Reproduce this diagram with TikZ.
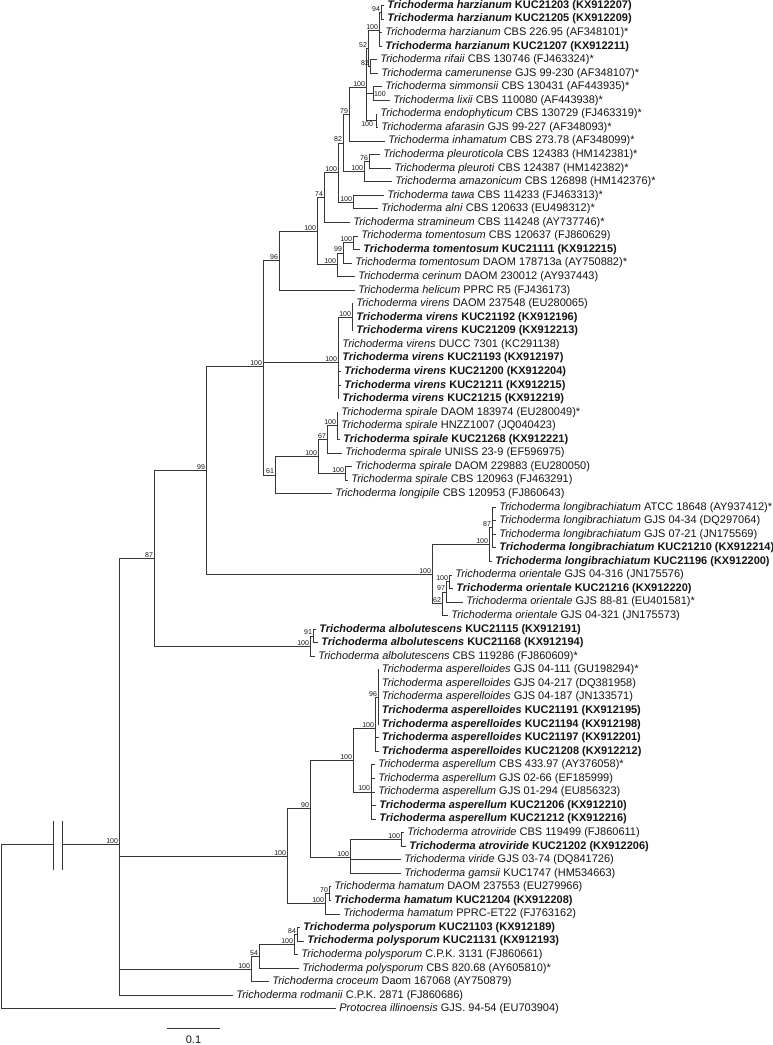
\documentclass[tikz,border=0pt]{standalone}
\usepackage{fontspec}
\setmainfont{Liberation Sans}
\definecolor{TreeGray}{RGB}{55,55,55}
\definecolor{TipText}{RGB}{20,20,20}
\newcommand{\Tsp}[1]{\textit{Trichoderma #1}}
\newcommand{\kids}[2]{\foreach \ch in {#2}{\draw[br] (#1) |- (\ch);}}

\begin{document}
\begin{tikzpicture}[x=1pt, y=-1pt,
    br/.style={draw=TreeGray, line width=0.95pt},
    taxon/.style={anchor=west, inner xsep=3.2pt, inner ysep=0pt, text=TipText,
                  font=\fontsize{11}{12}\selectfont},
    taxonB/.style={taxon, font=\fontsize{11}{12}\selectfont\bfseries},
    bsup/.style={anchor=south east, inner sep=0.8pt, text=TipText,
                 font=\fontsize{7}{8}\selectfont}
  ]
  \useasboundingbox (0,0) rectangle (773,1045);

  % internal nodes
  \coordinate (n94)  at (381,12.28);
  \coordinate (nH)   at (379,30.36);
  \coordinate (n82a) at (370,66.52);
  \coordinate (n52)  at (368,48.44);
  \coordinate (nS)   at (373,93.64);
  \coordinate (nE)   at (376,120.76);
  \coordinate (nB)   at (366,87.61);
  \coordinate (n79)  at (349,114.36);
  \coordinate (n76)  at (369,161.44);
  \coordinate (nP)   at (364,171.61);
  \coordinate (n82b) at (343,142.99);
  \coordinate (nTa)  at (353,202.12);
  \coordinate (nC)   at (338,172.55);
  \coordinate (n74)  at (324,197.51);
  \coordinate (nT)   at (353,242.80);
  \coordinate (n99t) at (343,252.97);
  \coordinate (nTe)  at (337,264.84);
  \coordinate (nD)   at (317,231.17);
  \coordinate (n96)  at (279,260.72);
  \coordinate (nVs)  at (352,317.38);
  \coordinate (nV)   at (338,362.58);
  \coordinate (nSp)  at (337,425.86);
  \coordinate (n67)  at (327,439.42);
  \coordinate (nSq)  at (345,473.32);
  \coordinate (nSr)  at (318,456.37);
  \coordinate (n61)  at (275,475.02);
  \coordinate (nF)   at (263,366.11);
  \coordinate (n87b) at (492,527.56);
  \coordinate (nLb)  at (489,544.51);
  \coordinate (nO)   at (449,581.80);
  \coordinate (n97)  at (446,591.97);
  \coordinate (n62)  at (442,603.84);
  \coordinate (nL)   at (432,574.17);
  \coordinate (n99)  at (206,470.14);
  \coordinate (n91)  at (313,636.04);
  \coordinate (nAl)  at (310,646.21);
  \coordinate (n87)  at (154,558.18);
  \coordinate (n96a) at (378,697.06);
  \coordinate (nAs)  at (375,728.70);
  \coordinate (nAm)  at (371,791.98);
  \coordinate (nAb)  at (353,760.34);
  \coordinate (nAt)  at (401,839.44);
  \coordinate (nVi)  at (350,857.52);
  \coordinate (n90)  at (310,808.93);
  \coordinate (n70)  at (329,893.68);
  \coordinate (nHa)  at (325,903.85);
  \coordinate (nG)   at (287,856.39);
  \coordinate (n84)  at (297,934.36);
  \coordinate (nPo)  at (294,944.53);
  \coordinate (n54)  at (259,956.40);
  \coordinate (nPc)  at (251,969.11);
  \coordinate (nA)   at (119,844.77);
  \coordinate (root) at (1,844.77);
  \coordinate (cut1) at (53,844.77);
  \coordinate (cut2) at (62,844.77);

  % taxa
  \node[taxonB] (l1)  at (384,5.50)   {\Tsp{harzianum} KUC21203 (KX912207)};
  \node[taxonB] (l2)  at (384,19.06)  {\Tsp{harzianum} KUC21205 (KX912209)};
  \node[taxon]  (l3)  at (382,32.62)  {\Tsp{harzianum} CBS 226.95 (AF348101)*};
  \node[taxonB] (l4)  at (382,46.18)  {\Tsp{harzianum} KUC21207 (KX912211)};
  \node[taxon]  (l5)  at (377,59.74)  {\Tsp{rifaii} CBS 130746 (FJ463324)*};
  \node[taxon]  (l6)  at (378,73.30)  {\Tsp{camerunense} GJS 99-230 (AF348107)*};
  \node[taxon]  (l7)  at (382,86.86)  {\Tsp{simmonsii} CBS 130431 (AF443935)*};
  \node[taxon]  (l8)  at (390,100.42) {\Tsp{lixii} CBS 110080 (AF443938)*};
  \node[taxon]  (l9)  at (377,113.98) {\Tsp{endophyticum} CBS 130729 (FJ463319)*};
  \node[taxon]  (l10) at (378,127.54) {\Tsp{afarasin} GJS 99-227 (AF348093)*};
  \node[taxon]  (l11) at (385,141.10) {\Tsp{inhamatum} CBS 273.78 (AF348099)*};
  \node[taxon]  (l12) at (380,154.66) {\Tsp{pleuroticola} CBS 124383 (HM142381)*};
  \node[taxon]  (l13) at (391,168.22) {\Tsp{pleuroti} CBS 124387 (HM142382)*};
  \node[taxon]  (l14) at (392,181.78) {\Tsp{amazonicum} CBS 126898 (HM142376)*};
  \node[taxon]  (l15) at (384,195.34) {\Tsp{tawa} CBS 114233 (FJ463313)*};
  \node[taxon]  (l16) at (378,208.90) {\Tsp{alni} CBS 120633 (EU498312)*};
  \node[taxon]  (l17) at (350,222.46) {\Tsp{stramineum} CBS 114248 (AY737746)*};
  \node[taxon]  (l18) at (358,236.02) {\Tsp{tomentosum} CBS 120637 (FJ860629)};
  \node[taxonB] (l19) at (360,249.58) {\Tsp{tomentosum} KUC21111 (KX912215)};
  \node[taxon]  (l20) at (352,263.14) {\Tsp{tomentosum} DAOM 178713a (AY750882)*};
  \node[taxon]  (l21) at (355,276.70) {\Tsp{cerinum} DAOM 230012 (AY937443)};
  \node[taxon]  (l22) at (355,290.26) {\Tsp{helicum} PPRC R5 (FJ436173)};
  \node[taxon]  (l23) at (353,303.82) {\Tsp{virens} DAOM 237548 (EU280065)};
  \node[taxonB] (l24) at (353,317.38) {\Tsp{virens} KUC21192 (KX912196)};
  \node[taxonB] (l25) at (353,330.94) {\Tsp{virens} KUC21209 (KX912213)};
  \node[taxon]  (l26) at (339,344.50) {\Tsp{virens} DUCC 7301 (KC291138)};
  \node[taxonB] (l27) at (339,358.06) {\Tsp{virens} KUC21193 (KX912197)};
  \node[taxonB] (l28) at (341,371.62) {\Tsp{virens} KUC21200 (KX912204)};
  \node[taxonB] (l29) at (341,385.18) {\Tsp{virens} KUC21211 (KX912215)};
  \node[taxonB] (l30) at (339,398.74) {\Tsp{virens} KUC21215 (KX912219)};
  \node[taxon]  (l31) at (338,412.30) {\Tsp{spirale} DAOM 183974 (EU280049)*};
  \node[taxon]  (l32) at (338,425.86) {\Tsp{spirale} HNZZ1007 (JQ040423)};
  \node[taxonB] (l33) at (340,439.42) {\Tsp{spirale} KUC21268 (KX912221)};
  \node[taxon]  (l34) at (342,452.98) {\Tsp{spirale} UNISS 23-9 (EF596975)};
  \node[taxon]  (l35) at (352,466.54) {\Tsp{spirale} DAOM 229883 (EU280050)};
  \node[taxon]  (l36) at (348,480.10) {\Tsp{spirale} CBS 120963 (FJ463291)};
  \node[taxon]  (l37) at (332,493.66) {\Tsp{longipile} CBS 120953 (FJ860643)};
  \node[taxon]  (l38) at (496,507.22) {\Tsp{longibrachiatum} ATCC 18648 (AY937412)*};
  \node[taxon]  (l39) at (496,520.78) {\Tsp{longibrachiatum} GJS 04-34 (DQ297064)};
  \node[taxon]  (l40) at (496,534.34) {\Tsp{longibrachiatum} GJS 07-21 (JN175569)};
  \node[taxonB] (l41) at (496,547.90) {\Tsp{longibrachiatum} KUC21210 (KX912214)};
  \node[taxonB] (l42) at (492,561.46) {\Tsp{longibrachiatum} KUC21196 (KX912200)};
  \node[taxon]  (l43) at (452,575.02) {\Tsp{orientale} GJS 04-316 (JN175576)};
  \node[taxonB] (l44) at (453,588.58) {\Tsp{orientale} KUC21216 (KX912220)};
  \node[taxon]  (l45) at (463,602.14) {\Tsp{orientale} GJS 88-81 (EU401581)*};
  \node[taxon]  (l46) at (448,615.70) {\Tsp{orientale} GJS 04-321 (JN175573)};
  \node[taxonB] (l47) at (316,629.26) {\Tsp{albolutescens} KUC21115 (KX912191)};
  \node[taxonB] (l48) at (318,642.82) {\Tsp{albolutescens} KUC21168 (KX912194)};
  \node[taxon]  (l49) at (315,656.38) {\Tsp{albolutescens} CBS 119286 (FJ860609)*};
  \node[taxon]  (l50) at (378.5,669.94) {\Tsp{asperelloides} GJS 04-111 (GU198294)*};
  \node[taxon]  (l51) at (378.5,683.50) {\Tsp{asperelloides} GJS 04-217 (DQ381958)};
  \node[taxon]  (l52) at (378.5,697.06) {\Tsp{asperelloides} GJS 04-187 (JN133571)};
  \node[taxonB] (l53) at (378.5,710.62) {\Tsp{asperelloides} KUC21191 (KX912195)};
  \node[taxonB] (l54) at (378.5,724.18) {\Tsp{asperelloides} KUC21194 (KX912198)};
  \node[taxonB] (l55) at (378.5,737.74) {\Tsp{asperelloides} KUC21197 (KX912201)};
  \node[taxonB] (l56) at (378.5,751.30) {\Tsp{asperelloides} KUC21208 (KX912212)};
  \node[taxon]  (l57) at (375,764.86) {\Tsp{asperellum} CBS 433.97 (AY376058)*};
  \node[taxon]  (l58) at (375,778.42) {\Tsp{asperellum} GJS 02-66 (EF185999)};
  \node[taxon]  (l59) at (375,791.98) {\Tsp{asperellum} GJS 01-294 (EU856323)};
  \node[taxonB] (l60) at (376,805.54) {\Tsp{asperellum} KUC21206 (KX912210)};
  \node[taxonB] (l61) at (376,819.10) {\Tsp{asperellum} KUC21212 (KX912216)};
  \node[taxon]  (l62) at (404,832.66) {\Tsp{atroviride} CBS 119499 (FJ860611)};
  \node[taxonB] (l63) at (406,846.22) {\Tsp{atroviride} KUC21202 (KX912206)};
  \node[taxon]  (l64) at (401,859.78) {\Tsp{viride} GJS 03-74 (DQ841726)};
  \node[taxon]  (l65) at (401,873.34) {\Tsp{gamsii} KUC1747 (HM534663)};
  \node[taxon]  (l66) at (331,886.90) {\Tsp{hamatum} DAOM 237553 (EU279966)};
  \node[taxonB] (l67) at (331,900.46) {\Tsp{hamatum} KUC21204 (KX912208)};
  \node[taxon]  (l68) at (340,914.02) {\Tsp{hamatum} PPRC-ET22 (FJ763162)};
  \node[taxonB] (l69) at (300,927.58) {\Tsp{polysporum} KUC21103 (KX912189)};
  \node[taxonB] (l70) at (304,941.14) {\Tsp{polysporum} KUC21131 (KX912193)};
  \node[taxon]  (l71) at (298,954.70) {\Tsp{polysporum} C.P.K. 3131 (FJ860661)};
  \node[taxon]  (l72) at (299,968.26) {\Tsp{polysporum} CBS 820.68 (AY605810)*};
  \node[taxon]  (l73) at (269,981.82) {\Tsp{croceum} Daom 167068 (AY750879)};
  \node[taxon]  (l74) at (233,995.38) {\Tsp{rodmanii} C.P.K. 2871 (FJ860686)};
  \node[taxon]  (l75) at (336,1008.94) {\textit{Protocrea illinoensis} GJS. 94-54 (EU703904)};

  % branches
  \kids{n94}{l1.west,l2.west}
  \kids{nH}{n94,l3.west,l4.west}
  \kids{n82a}{l5.west,l6.west}
  \kids{n52}{nH,n82a}
  \kids{nS}{l7.west,l8.west}
  \kids{nE}{l9.west,l10.west}
  \kids{nB}{n52,nS,nE}
  \kids{n79}{nB,l11.west}
  \kids{n76}{l12.west,l13.west}
  \kids{nP}{n76,l14.west}
  \kids{n82b}{n79,nP}
  \kids{nTa}{l15.west,l16.west}
  \kids{nC}{n82b,nTa}
  \kids{n74}{nC,l17.west}
  \kids{nT}{l18.west,l19.west}
  \kids{n99t}{nT,l20.west}
  \kids{nTe}{n99t,l21.west}
  \kids{nD}{n74,nTe}
  \kids{n96}{nD,l22.west}
  \kids{nVs}{l23.west,l24.west,l25.west}
  \kids{nV}{nVs,l26.west,l27.west,l28.west,l29.west,l30.west}
  \kids{nSp}{l31.west,l32.west,l33.west}
  \kids{n67}{nSp,l34.west}
  \kids{nSq}{l35.west,l36.west}
  \kids{nSr}{n67,nSq}
  \kids{n61}{nSr,l37.west}
  \kids{nF}{n96,nV,n61}
  \kids{n87b}{l38.west,l39.west,l40.west,l41.west}
  \kids{nLb}{n87b,l42.west}
  \kids{nO}{l43.west,l44.west}
  \kids{n97}{nO,l45.west}
  \kids{n62}{n97,l46.west}
  \kids{nL}{nLb,n62}
  \kids{n99}{nF,nL}
  \kids{n91}{l47.west,l48.west}
  \kids{nAl}{n91,l49.west}
  \kids{n87}{n99,nAl}
  \kids{n96a}{l50.west,l51.west,l52.west,l53.west,l54.west}
  \kids{nAs}{n96a,l55.west,l56.west}
  \kids{nAm}{l57.west,l58.west,l59.west,l60.west,l61.west}
  \kids{nAb}{nAs,nAm}
  \kids{nAt}{l62.west,l63.west}
  \kids{nVi}{nAt,l64.west,l65.west}
  \kids{n90}{nAb,nVi}
  \kids{n70}{l66.west,l67.west}
  \kids{nHa}{n70,l68.west}
  \kids{nG}{n90,nHa}
  \kids{n84}{l69.west,l70.west}
  \kids{nPo}{n84,l71.west}
  \kids{n54}{nPo,l72.west}
  \kids{nPc}{n54,l73.west}
  \kids{nA}{n87,nG,nPc,l74.west}
  \draw[br] (root) |- (l75.west);
  \draw[br] (root) -- (cut1);
  \draw[br] (cut2) -- (nA);
  % break marks
  \draw[br] (53,821) -- (53,870);
  \draw[br] (62,821) -- (62,870);

  % bootstrap values
  \foreach \nd/\bv in {n94/94, nH/100, n52/52, n82a/82, nB/100, n79/79, n82b/82,
      n76/76, nP/100, nTa/100, nC/100, n74/74, nT/100, n99t/99, nTe/100, nD/100,
      n96/96, nVs/100, nV/100, nSp/100, n67/67, nSq/100, nSr/100, n61/61, nF/100,
      n87b/87, nLb/100, nO/100, n97/97, n62/62, nL/100, n99/99, n91/91, nAl/100,
      n87/87, n96a/96, nAs/100, nAm/100, nAb/100, nAt/100, nVi/100, n90/90,
      n70/70, nHa/100, nG/100, n84/84, nPo/100, n54/54, nPc/100, nA/100}
    \node[bsup] (b\nd) at (\nd) {\bv};
  \node[bsup, anchor=west] (bnS) at (nS) {100};
  \node[bsup, anchor=north east, xshift=-2pt] (bnE) at (nE) {100};

  % scale bar
  \coordinate (sbL) at (167,1028);
  \coordinate (sbR) at (220,1028);
  \draw[br] (sbL) -- (sbR);
  \node[text=TipText, font=\fontsize{11}{12}\selectfont] (sbT) at (193.5,1040) {0.1};
\end{tikzpicture}
\end{document}
